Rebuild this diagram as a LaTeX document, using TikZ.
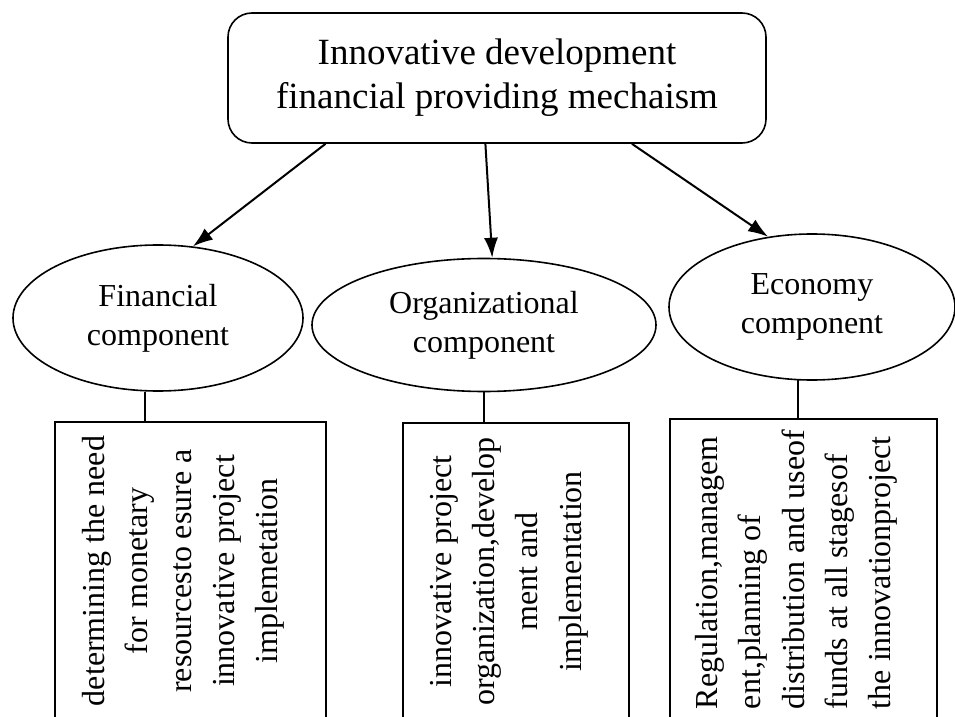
\documentclass[tikz,border=0pt]{standalone}
\usepackage{fontspec}
\setmainfont{Liberation Serif}
\usetikzlibrary{shapes.geometric,arrows.meta}
\begin{document}
\begin{tikzpicture}[x=0.5pt,y=-0.5pt,>={Latex[length=10pt,width=7pt]},
    comp/.style={draw,ellipse,inner sep=0pt,align=center,line width=0.8pt,font=\fontsize{16}{19.5}\selectfont},
    descbox/.style={draw,rectangle,inner sep=0pt,line width=0.8pt},
    desctext/.style={rotate=90,inner sep=0pt,font=\fontsize{16}{21.7}\selectfont}]
\useasboundingbox (0,0) rectangle (955,717);
\clip (0,0) rectangle (955,717);
% top box
\node[draw,rounded corners=12pt,line width=0.8pt,minimum width=269pt,minimum height=65pt,align=center,
    font=\fontsize{18.5}{22}\selectfont] (mech) at (497,78) {Innovative development\\financial providing mechaism};
% components
\node[comp,minimum width=145pt,minimum height=73pt] (fin) at (158,318) {Financial\\component};
\node[comp,minimum width=172pt,minimum height=66.5pt] (org) at (484,325) {Organizational\\component};
\node[comp,minimum width=143pt,minimum height=73pt] (eco) at (812,307) {Economy\\component};
\draw[->,line width=1pt] (mech.-159)--(fin.64);
\draw[->,line width=1pt] (mech.-100.5)--(org.83);
\draw[->,line width=1pt] (mech.-26)--(eco.122);
% description boxes
\node[descbox,minimum width=135.5pt,minimum height=149pt] (finbox) at (190.5,571) {};
\node[descbox,minimum width=113pt,minimum height=148.5pt] (orgbox) at (516,571.5) {};
\node[descbox,minimum width=133.5pt,minimum height=150.5pt] (ecobox) at (803.5,569.5) {};
\node[desctext,align=center] (fintext) at ([xshift=-3.5pt]finbox.center)
    {determining the need\\for monetary\\resourcesto esure a\\innovative project\\implemetation};
\node[desctext,align=center] (orgtext) at ([xshift=-3.5pt]orgbox.center)
    {innovative project\\organization,develop\\ment and\\implementation};
\node[desctext,align=left] (ecotext) at ([xshift=-3.5pt]ecobox.center)
    {Regulation,managem\\ent,planning of\\distribution and useof\\funds at all stagesof\\the innovationproject};
\draw[line width=0.8pt] (fin.-100)--(fin.-100 |- finbox.north);
\draw[line width=0.8pt] (org.south)--(org.south |- orgbox.north);
\draw[line width=0.8pt] (eco.-101)--(eco.-101 |- ecobox.north);
\end{tikzpicture}
\end{document}
